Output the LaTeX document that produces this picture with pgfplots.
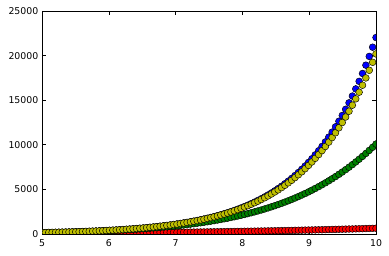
\documentclass[border=0pt]{standalone}
\usepackage{pgfplots}
\pgfplotsset{compat=1.18}
\usepackage{pgfplotstable}
\usepackage{fontspec}
\setmainfont{DejaVu Sans}
\definecolor{mplblue}{rgb}{0,0,1}
\definecolor{mplred}{rgb}{1,0,0}
\definecolor{mplgreen}{rgb}{0,0.5,0}
\definecolor{mplyellow}{rgb}{0.75,0.75,0}

% x, exp(x), T14(x), T9(x), T4(x)
\pgfplotstableread{
x b y g r
5.00000 148.41 148.41 143.69 65.38
5.05051 156.10 156.10 150.84 67.39
5.10101 164.19 164.19 158.34 69.44
5.15152 172.69 172.69 166.19 71.55
5.20202 181.64 181.64 174.42 73.71
5.25253 191.05 191.05 183.04 75.91
5.30303 200.95 200.95 192.06 78.17
5.35354 211.35 211.35 201.52 80.48
5.40404 222.30 222.30 211.42 82.84
5.45455 233.82 233.82 221.79 85.26
5.50505 245.93 245.8 232.64 87.73
5.55556 258.67 258.5 244.00 90.26
5.60606 272.07 271.9 255.89 92.84
5.65657 286.16 286.0 268.34 95.48
5.70707 300.99 300.8 281.35 98.18
5.75758 316.58 316.3 294.98 100.93
5.80808 332.98 332.7 309.22 103.75
5.85859 350.23 349.9 324.13 106.62
5.90909 368.37 368.0 339.71 109.56
5.95960 387.45 387.0 355.00 112.56
6.01010 407.52 406.9 372.04 115.62
6.06061 428.64 427.9 390.85 118.74
6.11111 450.84 450.0 409.46 121.93
6.16162 474.19 473.3 428.91 125.19
6.21212 498.76 497.8 449.23 128.51
6.26263 524.59 523.5 470.47 131.90
6.31313 551.77 550.5 492.63 135.36
6.36364 580.35 578.9 515.80 138.89
6.41414 610.42 608.7 540.00 142.49
6.46465 642.04 640.0 565.25 146.16
6.51515 675.30 673.0 591.61 149.90
6.56566 710.28 707.7 619.13 153.72
6.61616 747.07 744.2 647.86 157.61
6.66667 785.77 782.6 677.83 161.58
6.71717 826.48 822.9 709.09 165.62
6.76768 869.29 865.3 741.72 169.74
6.81818 914.32 909.8 775.75 173.94
6.86869 961.68 956.7 811.24 178.21
6.91919 1011.50 1005.9 848.24 182.57
6.96970 1063.90 1057.7 886.82 187.01
7.02020 1119.01 1112.0 926.83 191.53
7.07071 1176.98 1169.2 968.96 196.13
7.12121 1237.95 1229.3 1012.64 200.82
7.17172 1302.08 1292.4 1058.16 205.59
7.22222 1369.53 1358.7 1105.57 210.45
7.27273 1440.47 1428.5 1154.97 215.40
7.32323 1515.09 1501.8 1206.41 220.43
7.37374 1593.58 1578.9 1259.99 225.56
7.42424 1676.13 1659.8 1315.78 230.78
7.47475 1762.95 1744.9 1373.85 236.08
7.52525 1854.29 1834.3 1434.30 241.49
7.57576 1950.33 1928.2 1497.22 246.98
7.62626 2051.37 2027.0 1562.69 252.57
7.67677 2157.63 2130.6 1630.82 258.26
7.72727 2269.40 2239.5 1701.67 264.04
7.77778 2386.96 2353.9 1775.39 269.92
7.82828 2510.62 2474.0 1852.05 275.90
7.87879 2640.67 2600.3 1931.78 281.99
7.92929 2777.46 2732.8 2014.64 288.17
7.97980 2921.34 2871.9 2100.80 294.46
8.03030 3072.67 3018.07 2190.39 300.85
8.08081 3231.84 3171.52 2283.45 307.34
8.13131 3399.26 3332.65 2380.17 313.95
8.18182 3575.35 3501.89 2480.67 320.66
8.23232 3760.56 3679.54 2585.05 327.48
8.28283 3955.36 3866.09 2693.49 334.41
8.33333 4160.26 4061.91 2806.09 341.45
8.38384 4375.77 4267.51 2923.03 348.60
8.43434 4602.45 4483.30 3044.43 355.86
8.48485 4840.86 4709.89 3170.50 363.25
8.53535 5091.64 4947.68 3301.34 370.75
8.58586 5355.39 5197.07 3437.01 378.36
8.63636 5632.82 5459.06 3577.95 386.09
8.68687 5924.61 5733.97 3724.17 393.94
8.73737 6231.52 6022.32 3875.78 401.91
8.78788 6554.32 6325.01 4033.12 410.01
8.83838 6893.85 6642.45 4196.22 418.23
8.88889 7250.97 6975.58 4365.40 426.57
8.93939 7626.58 7324.90 4540.74 435.04
8.98990 8021.65 7691.59 4722.63 443.64
9.04040 8437.18 8076.18 4911.17 452.37
9.09091 8874.24 8479.48 5106.53 461.22
9.14141 9333.95 8902.44 5308.98 470.21
9.19192 9817.48 9346.16 5518.84 479.33
9.24242 10326.04 9811.20 5736.12 488.58
9.29293 10860.94 10300.03 5961.84 497.97
9.34343 11423.57 10810.41 6194.52 507.49
9.39394 12015.33 11346.66 6436.08 517.15
9.44444 12637.75 11908.84 6686.24 526.96
9.49495 13292.41 12497.79 6945.06 536.90
9.54545 13981.01 13115.27 7213.09 546.98
9.59596 14705.26 13762.60 7490.62 557.21
9.64646 15466.99 14441.07 7777.86 567.58
9.69697 16268.24 15151.73 8075.00 578.09
9.74747 17110.96 15896.63 8382.54 588.76
9.79798 17997.35 16677.04 8700.74 599.57
9.84848 18929.65 17494.83 9029.96 610.53
9.89899 19910.24 18351.32 9370.39 621.65
9.94949 20941.62 19248.80 9722.64 632.91
10.00000 22026.47 20188.17 10086.57 644.33
}\data

\begin{document}
\fontsize{9.4}{11}\selectfont
\begin{tikzpicture}
\path[use as bounding box] (0,0) rectangle (389bp,256bp);
\begin{axis}[
  at={(42bp,22bp)}, anchor=south west,
  scale only axis, width=334bp, height=223bp,
  xmin=5, xmax=10, ymin=0, ymax=25000,
  xtick={5,6,7,8,9,10},
  ytick={0,5000,10000,15000,20000,25000},
  scaled y ticks=false,
  /pgf/number format/assume math mode=true,
  /pgf/number format/1000 sep={},
  tick align=inside,
  major tick length=4bp,
  axis line style={line width=0.8bp, black},
  every tick/.style={black, line width=0.6bp},
  xticklabel style={inner sep=0pt, anchor=north, yshift=-5bp},
  yticklabel style={inner sep=0pt, anchor=east, xshift=-3.5bp},
  clip marker paths=true,
  every axis plot/.append style={only marks, mark=*, mark size=3.4bp},
]
\addplot[mark options={draw=black, fill=mplblue, line width=0.45bp}] table[x=x, y=b]{\data};
\addplot[mark options={draw=black, fill=mplred, line width=0.45bp}] table[x=x, y=r]{\data};
\addplot[mark options={draw=black, fill=mplgreen, line width=0.45bp}] table[x=x, y=g]{\data};
\addplot[mark options={draw=black, fill=mplyellow, line width=0.45bp}] table[x=x, y=y]{\data};
\end{axis}
\end{tikzpicture}
\end{document}
